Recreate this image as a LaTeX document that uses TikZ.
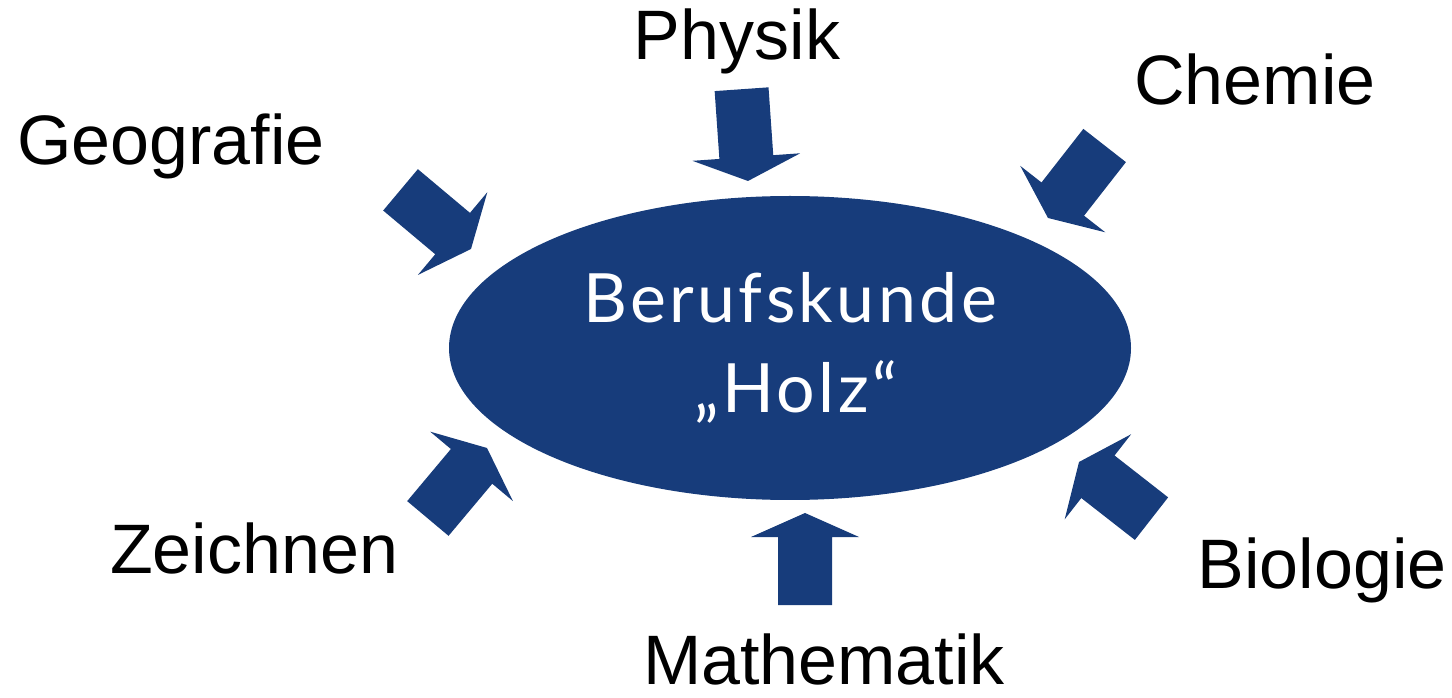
\documentclass[tikz,border=0pt]{standalone}
\usepackage{fontspec}
\setmainfont{Liberation Sans}
\newfontfamily\kernfont[LetterSpace=5]{Lato}
\usetikzlibrary{shapes.geometric,positioning}
\definecolor{hzBlue}{HTML}{173C7B}

\begin{document}
\begin{tikzpicture}[x=0.5pt,y=0.5pt,
  fach/.style={font=\fontsize{35}{40}\selectfont,anchor=base,inner sep=0pt},
  kern/.style={ellipse,fill=hzBlue,text=white,inner sep=0pt,minimum width=341pt,
               minimum height=152pt,align=center,font=\kernfont\fontsize{34}{45}\selectfont},
  pfeil/.pic={\fill[hzBlue] (0,0) -- (-24,54) -- (-24,27) -- (-92,27) -- (-92,-27)
               -- (-24,-27) -- (-24,-54) -- cycle;}]
\useasboundingbox (0,0) rectangle (1452,697);
\node[kern] (holz) at (790,349) {Berufskunde\\\,„Holz“};
% subjects
\node[fach] (phy) at (737,637) {Physik};
\node[fach] (che) at (1255,592) {Chemie};
\node[fach] (geo) at (171,532) {Geografie};
\node[fach] (zei) at (254,124) {Zeichnen};
\node[fach] (bio) at (1322,109) {Biologie};
\node[fach] (mat) at (824,13) {Mathematik};
% arrows towards the ellipse
\pic[rotate=-86] at (748,516) {pfeil};
\pic[rotate=-128] at (1048,479) {pfeil};
\pic[rotate=-40] at (471,448) {pfeil};
\pic[rotate=50] at (487,249) {pfeil};
\pic[rotate=90] at (805,184) {pfeil};
\pic[rotate=142] at (1079,235) {pfeil};
\end{tikzpicture}
\end{document}
